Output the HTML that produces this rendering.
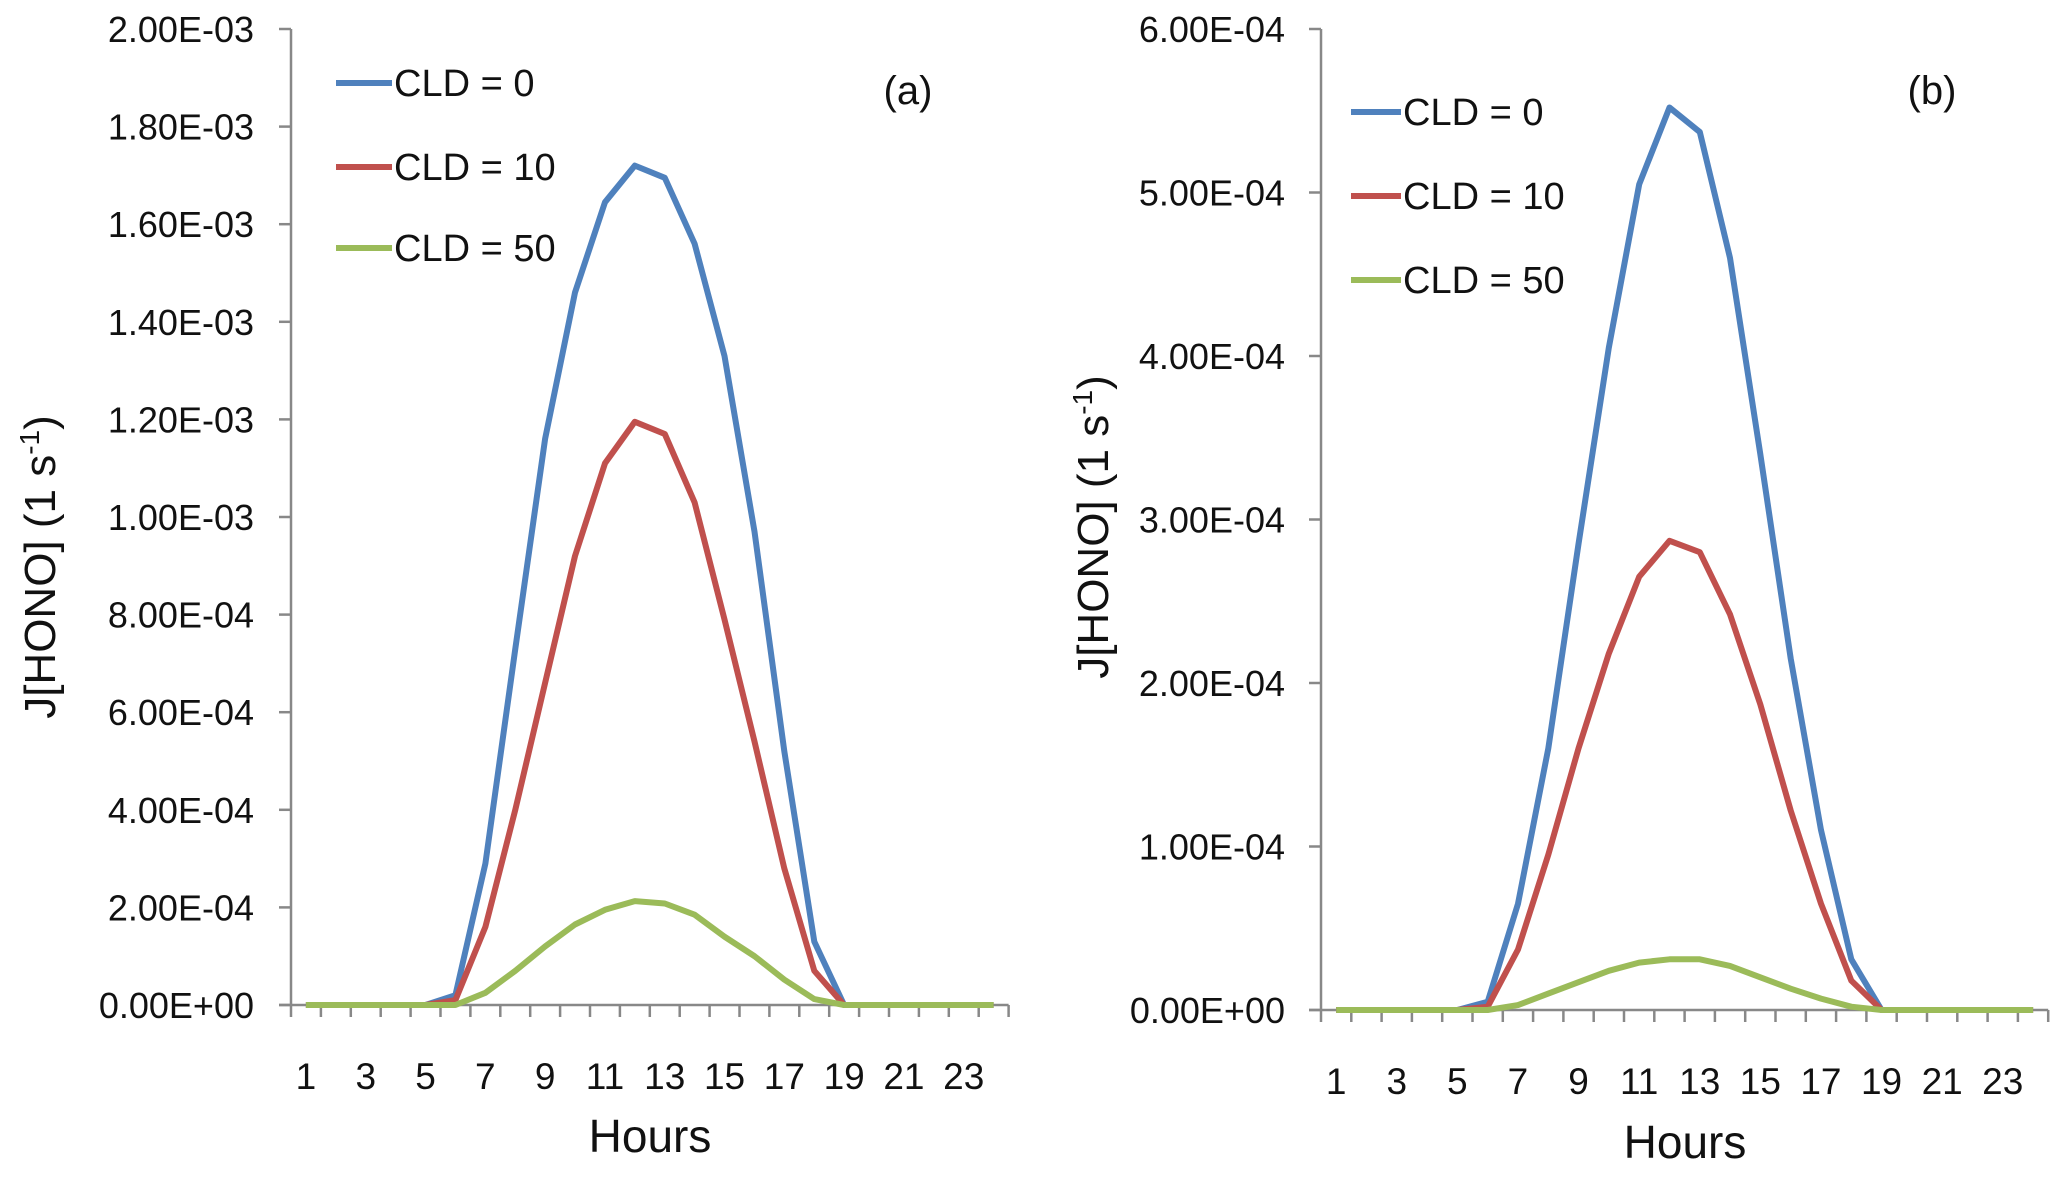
<!DOCTYPE html>
<html><head><meta charset="utf-8"><style>
html,body{margin:0;padding:0;background:#fff;}
svg{display:block;font-family:"Liberation Sans",sans-serif;}
</style></head><body>
<svg id="chart" width="2067" height="1180" viewBox="0 0 2067 1180" xmlns="http://www.w3.org/2000/svg"></svg>
<script>
const hours = [1,2,3,4,5,6,7,8,9,10,11,12,13,14,15,16,17,18,19,20,21,22,23,24];
const xTickLabels = ["1","3","5","7","9","11","13","15","17","19","21","23"];
const seriesNames = ["CLD = 0","CLD = 10","CLD = 50"];
const aCld0 = [0,0,0,0,0,2e-5,2.9e-4,7.3e-4,1.16e-3,1.46e-3,1.645e-3,1.72e-3,1.695e-3,1.56e-3,1.33e-3,9.7e-4,5.2e-4,1.3e-4,0,0,0,0,0,0];
const aCld10 = [0,0,0,0,0,1e-5,1.6e-4,4e-4,6.6e-4,9.2e-4,1.11e-3,1.195e-3,1.17e-3,1.03e-3,7.9e-4,5.4e-4,2.8e-4,7e-5,0,0,0,0,0,0];
const aCld50 = [0,0,0,0,0,0,2.5e-5,7e-5,1.2e-4,1.65e-4,1.95e-4,2.13e-4,2.08e-4,1.85e-4,1.4e-4,1e-4,5.2e-5,1.2e-5,0,0,0,0,0,0];
const bCld0 = [0,0,0,0,0,5e-6,6.5e-5,1.6e-4,2.85e-4,4.05e-4,5.05e-4,5.52e-4,5.37e-4,4.6e-4,3.4e-4,2.15e-4,1.1e-4,3.1e-5,0,0,0,0,0,0];
const bCld10 = [0,0,0,0,0,2e-6,3.7e-5,9.5e-5,1.6e-4,2.18e-4,2.65e-4,2.87e-4,2.8e-4,2.42e-4,1.87e-4,1.22e-4,6.5e-5,1.8e-5,0,0,0,0,0,0];
const bCld50 = [0,0,0,0,0,0,3e-6,1e-5,1.7e-5,2.4e-5,2.9e-5,3.1e-5,3.1e-5,2.7e-5,2e-5,1.3e-5,7e-6,2e-6,0,0,0,0,0,0];
const aYTicks = ["0.00E+00","2.00E-04","4.00E-04","6.00E-04","8.00E-04","1.00E-03","1.20E-03","1.40E-03","1.60E-03","1.80E-03","2.00E-03"];
const aYMax = 2e-3;
const bYTicks = ["0.00E+00","1.00E-04","2.00E-04","3.00E-04","4.00E-04","5.00E-04","6.00E-04"];
const bYMax = 6e-4;

const NS="http://www.w3.org/2000/svg";
const svg=document.getElementById('chart');
const colors=["#4F81BD","#C0504D","#9BBB59"];
function mk(tag,attrs,parent){const e=document.createElementNS(NS,tag);for(const k in attrs)e.setAttribute(k,attrs[k]);(parent||svg).appendChild(e);return e;}

function panel(cfg){
  const g=mk('g',{});
  
  
  const x0=cfg.ax, x1=cfg.ax+cfg.cw*hours.length, yTop=cfg.top, yZero=cfg.zero;
  const xs=h=>x0+(h-0.5)*cfg.cw;
  const ys=v=>yZero-(v/cfg.ymax)*(yZero-yTop);
  const ya=mk('line',{x1:x0,y1:yTop,x2:x0,y2:yZero,stroke:"#888",'stroke-width':2.5},g);
  
  
  const xa=mk('line',{x1:x0-12,y1:yZero,x2:x1,y2:yZero,stroke:"#888",'stroke-width':2.5},g);
  
  
  cfg.yticks.forEach((t,i)=>{
    const v=cfg.ymax*i/(cfg.yticks.length-1);const y=ys(v);
    mk('line',{x1:x0-12,y1:y,x2:x0,y2:y,stroke:"#888",'stroke-width':2.5},g);
    const tx=mk('text',{x:cfg.labR,y:y+13,'text-anchor':'end','font-size':36,fill:'#111'},g);
    tx.textContent=t;
    
    
  });
  for(let i=0;i<=hours.length;i++){
    const x=x0+i*cfg.cw;
    mk('line',{x1:x,y1:yZero,x2:x,y2:yZero+12,stroke:"#888",'stroke-width':2.5},g);
  }
  xTickLabels.forEach(t=>{
    const tx=mk('text',{x:xs(+t),y:cfg.zero+84,'text-anchor':'middle','font-size':37,fill:'#111'},g);
    tx.textContent=t;
    
    
  });
  cfg.series.forEach((arr,si)=>{
    const pts=arr.map((v,i)=>xs(hours[i]).toFixed(1)+','+ys(v).toFixed(1)).join(' ');
    const pl=mk('polyline',{points:pts,fill:'none',stroke:colors[si],'stroke-width':6,'stroke-linejoin':'round'},g);
    
    
    const ly=cfg.legY[si];
    const ll=mk('line',{x1:cfg.legX,y1:ly,x2:cfg.legX+cfg.legW,y2:ly,stroke:colors[si],'stroke-width':6},g);
    
    
    const lt=mk('text',{x:cfg.legX+cfg.legW+2,y:ly+13,'font-size':38,fill:'#111'},g);
    lt.textContent=seriesNames[si];
    
    
  });
  const pl=mk('text',{x:cfg.tagX,y:cfg.tagY,'text-anchor':'middle','font-size':40,fill:'#111'},g);
  pl.textContent=cfg.tag;
  
  
  const xt=mk('text',{x:cfg.hx,y:cfg.hy+16,'text-anchor':'middle','font-size':46,fill:'#111'},g);
  xt.textContent='Hours';
  
  
  const yt=mk('text',{x:0,y:0,'text-anchor':'middle','font-size':44,fill:'#111',transform:`translate(${cfg.ytx},${cfg.yty}) rotate(-90)`},g);
  yt.innerHTML='J[HONO] (1 s<tspan dy="-16" font-size="28">-1</tspan><tspan dy="16">)</tspan>';
  
  
}
panel({id:'a',ax:291,cw:29.9,top:29,zero:1005,ymax:aYMax,yticks:aYTicks,labR:254,series:[aCld0,aCld10,aCld50],
  legX:336,legW:56,legY:[83,167,248],tagX:908,tagY:104,tag:'(a)',hx:650,hy:1136,ytx:55,yty:567});
panel({id:'b',ax:1321,cw:30.3,top:29,zero:1010,ymax:bYMax,yticks:bYTicks,labR:1285,series:[bCld0,bCld10,bCld50],
  legX:1351,legW:50,legY:[112,196,280],tagX:1932,tagY:104,tag:'(b)',hx:1685,hy:1142,ytx:1108,yty:527});
</script>
</body></html>
